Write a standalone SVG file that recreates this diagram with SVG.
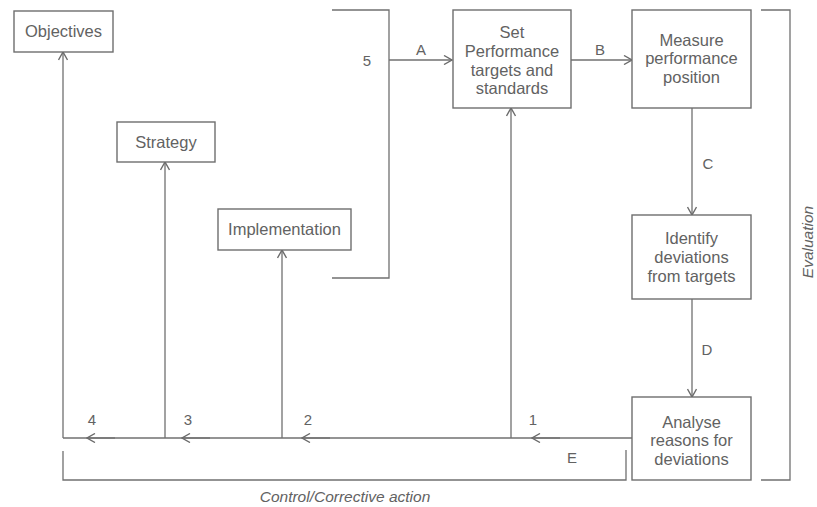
<svg xmlns="http://www.w3.org/2000/svg" width="817" height="507" viewBox="0 0 817 507">
  <defs>
    <marker id="chev" viewBox="0 0 10 10" refX="9" refY="5" markerWidth="10" markerHeight="10" markerUnits="userSpaceOnUse" orient="auto">
      <path d="M1,0.5 L9,5 L1,9.5" fill="none" stroke="#6b6b6b" stroke-width="1.4"/>
    </marker>
  </defs>
  <style>
    .box { fill: #ffffff; stroke: #6e6e6e; stroke-width: 1.4; }
    .ln { fill: none; stroke: #707070; stroke-width: 1.3; }
    .arr { fill: none; stroke: #707070; stroke-width: 1.3; marker-end: url(#chev); }
    .t { font-family: "Liberation Sans", Arial, sans-serif; font-size: 16.5px; fill: #626262; text-anchor: middle; }
    .lbl { font-family: "Liberation Sans", Arial, sans-serif; font-size: 15px; fill: #626262; text-anchor: middle; }
    .it { font-family: "Liberation Sans", Arial, sans-serif; font-size: 15.5px; font-style: italic; fill: #626262; text-anchor: middle; }
  </style>
  <rect width="817" height="507" fill="#ffffff"/>

  <g id="connectors">
    <!-- bracket collecting objectives, strategy and implementation -->
    <path class="ln" d="M332,10 H389 V278 H332"/>
    <path class="arr" d="M389,60 H452"/>
    <!-- evaluation sequence -->
    <path class="arr" d="M571,60 H632"/>
    <path class="arr" d="M692,108 V215"/>
    <path class="arr" d="M692,299 V397"/>
    <!-- corrective action feedback line -->
    <path class="ln" d="M632,438 H63"/>
    <path class="arr" d="M560,438 H532"/>
    <path class="arr" d="M330,438 H302"/>
    <path class="arr" d="M210,438 H182"/>
    <path class="arr" d="M115,438 H87"/>
    <path class="arr" d="M511,438 V108"/>
    <path class="arr" d="M282,438 V250"/>
    <path class="arr" d="M165,438 V162"/>
    <path class="arr" d="M63,438 V52"/>
    <!-- brackets -->
    <path class="ln" d="M761,10 H790 V480 H761"/>
    <path class="ln" d="M63,451 V480 H626 V450"/>
  </g>

  <g id="objectives">
    <rect class="box" x="14" y="11" width="99" height="41"/>
    <text class="t" x="63.5" y="37">Objectives</text>
  </g>
  <g id="strategy">
    <rect class="box" x="117" y="122" width="98" height="40"/>
    <text class="t" x="166" y="148">Strategy</text>
  </g>
  <g id="implementation">
    <rect class="box" x="218" y="209" width="133" height="41"/>
    <text class="t" x="284.5" y="235">Implementation</text>
  </g>
  <g id="set-targets">
    <rect class="box" x="453" y="10" width="118" height="98"/>
    <text class="t" x="512" y="38">Set</text>
    <text class="t" x="512" y="57">Performance</text>
    <text class="t" x="512" y="76">targets and</text>
    <text class="t" x="512" y="94">standards</text>
  </g>
  <g id="measure">
    <rect class="box" x="632" y="10" width="119" height="98"/>
    <text class="t" x="691.5" y="46">Measure</text>
    <text class="t" x="691.5" y="64">performance</text>
    <text class="t" x="691.5" y="83">position</text>
  </g>
  <g id="identify">
    <rect class="box" x="632" y="215" width="119" height="84"/>
    <text class="t" x="691.5" y="244">Identify</text>
    <text class="t" x="691.5" y="263">deviations</text>
    <text class="t" x="691.5" y="282">from targets</text>
  </g>
  <g id="analyse">
    <rect class="box" x="632" y="397" width="119" height="83"/>
    <text class="t" x="691.5" y="428">Analyse</text>
    <text class="t" x="691.5" y="446">reasons for</text>
    <text class="t" x="691.5" y="465">deviations</text>
  </g>

  <g id="labels">
    <text class="lbl" x="367" y="66">5</text>
    <text class="lbl" x="421" y="55">A</text>
    <text class="lbl" x="600" y="55">B</text>
    <text class="lbl" x="708" y="169">C</text>
    <text class="lbl" x="707" y="355">D</text>
    <text class="lbl" x="572" y="463">E</text>
    <text class="lbl" x="533" y="425">1</text>
    <text class="lbl" x="308" y="425">2</text>
    <text class="lbl" x="188" y="425">3</text>
    <text class="lbl" x="92" y="425">4</text>
    <text class="it" x="345" y="502">Control/Corrective action</text>
    <text class="it" transform="translate(813,242) rotate(-90)">Evaluation</text>
  </g>
</svg>
